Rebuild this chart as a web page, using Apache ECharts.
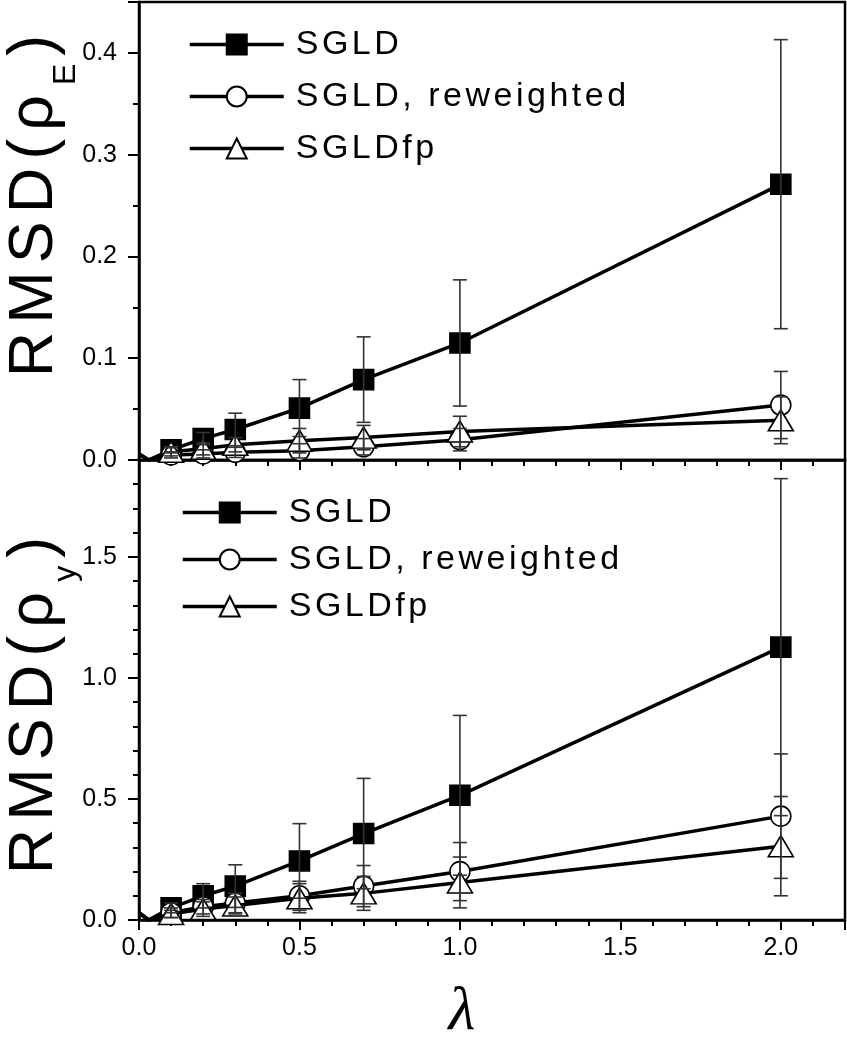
<!DOCTYPE html>
<html><head><meta charset="utf-8">
<script src="https://cdn.jsdelivr.net/npm/echarts@6/dist/echarts.min.js"></script>
<style>html,body{margin:0;padding:0;background:#fff}#c{width:847px;height:1050px}</style>
</head><body><div id="c"></div>
<script>
// ---- data ----
const lambdaVals = [0, 0.03, 0.1, 0.2, 0.3, 0.5, 0.7, 1.0, 2.0];
const seriesNames = ['SGLD', 'SGLD, reweighted', 'SGLDfp'];
// top panel: RMSD(rho_E)
const sgldE      = [0.006, 0, 0.010, 0.021, 0.030, 0.051, 0.079, 0.115, 0.271];
const sgldEErr   = [null, null, 0.003, 0.006, 0.016, 0.028, 0.042, 0.062, 0.142];
const reweE      = [0.006, 0, 0.005, 0.006, 0.0075, 0.009, 0.013, 0.020, 0.054];
const reweEErr   = [null, null, 0.003, 0.004, 0.005, 0.007, 0.008, 0.011, 0.033];
const fpE        = [0.006, 0, 0.008, 0.011, 0.015, 0.019, 0.022, 0.028, 0.039];
const fpEErr     = [null, null, 0.004, 0.006, 0.007, 0.012, 0.012, 0.015, 0.023];
// bottom panel: RMSD(rho_y)
const sgldY      = [0.03, 0, 0.05, 0.10, 0.14, 0.244, 0.357, 0.515, 1.127];
const sgldYErr   = [null, null, 0.02, 0.05, 0.088, 0.154, 0.228, 0.33, 0.696];
const reweY      = [0.03, 0, 0.03, 0.055, 0.07, 0.10, 0.14, 0.20, 0.429];
const reweYErr   = [null, null, 0.02, 0.03, 0.04, 0.06, 0.085, 0.12, 0.257];
const fpY        = [0.03, 0, 0.025, 0.045, 0.06, 0.09, 0.11, 0.155, 0.305];
const fpYErr     = [null, null, 0.015, 0.03, 0.035, 0.06, 0.07, 0.105, 0.205];
// axis ticks
const xMajorTicks = [0, 0.5, 1.0, 1.5, 2.0];
const yTopTicks = [0, 0.1, 0.2, 0.3, 0.4];
const yBotTicks = [0, 0.5, 1.0, 1.5];

// ---- build ----
const FONT = "'Liberation Sans', Arial, sans-serif";
const pts = (vals) => lambdaVals.map((x, i) => i < 2 ? {value: [x, vals[i]], symbol: 'none'} : [x, vals[i]]);
const errPts = (vals, errs) => lambdaVals.map((x, i) => [x, vals[i], errs[i]]).filter(d => d[2] != null);

const symbols = [
  {symbol: 'rect', size: 20, fill: '#000'},
  {symbol: 'circle', size: 20, fill: '#fff'},
  {symbol: 'triangle', size: [25, 21], fill: '#fff'}
];

function lineSeries(k, panel, vals) {
  const s = symbols[k];
  return {
    type: 'line', name: seriesNames[k], xAxisIndex: panel * 2, yAxisIndex: panel * 2,
    data: pts(vals), symbol: s.symbol, symbolSize: s.size, showAllSymbol: true,
    itemStyle: {color: s.fill, borderColor: '#000', borderWidth: 1.6},
    lineStyle: {color: '#000', width: 3.5}, z: 3 + k, animation: false, clip: true
  };
}
function errRender(params, api) {
  const x = api.value(0), y = api.value(1), e = api.value(2);
  const hi = api.coord([x, y + e]), lo = api.coord([x, y - e]);
  const w = 7;
  const style = {stroke: '#333', lineWidth: 1.6, fill: null};
  return {type: 'group', children: [
    {type: 'line', shape: {x1: hi[0], y1: hi[1], x2: lo[0], y2: lo[1]}, style},
    {type: 'line', shape: {x1: hi[0] - w, y1: hi[1], x2: hi[0] + w, y2: hi[1]}, style},
    {type: 'line', shape: {x1: lo[0] - w, y1: lo[1], x2: lo[0] + w, y2: lo[1]}, style}
  ]};
}
function errSeries(panel, vals, errs) {
  return {type: 'custom', xAxisIndex: panel * 2, yAxisIndex: panel * 2, data: errPts(vals, errs),
    encode: {x: 0, y: 1}, renderItem: errRender, z: 10, animation: false, silent: true};
}

const near = (v, arr) => arr.some(t => Math.abs(t - v) < 1e-6);
const axisLineStyle = {color: '#000', width: 2.5};
// spread characters (the original figure's lettering is horizontally stretched)
const spread = (str, style) => str.split('').map(c => `{${style}|${c}}`).join('');

function xAxes(grid, showLabels) {
  return [
    {type: 'value', gridIndex: grid, position: 'bottom', min: 0, max: 2.2, interval: 0.5,
      axisLine: {show: true, lineStyle: axisLineStyle, onZero: false},
      axisTick: {show: true, inside: false, length: 10, lineStyle: {color: '#000', width: 2}},
      axisLabel: {show: showLabels, margin: 16, fontSize: 25, color: '#000', fontFamily: FONT,
        formatter: v => near(v, xMajorTicks) ? v.toFixed(1) : ''},
      splitLine: {show: false},
      name: showLabels ? 'λ' : '', nameLocation: 'middle', nameGap: 62, nameMoveOverlap: false,
      nameTextStyle: {fontFamily: "'Liberation Serif', 'DejaVu Serif', serif", fontStyle: 'italic',
        fontSize: 62, color: '#000', padding: [0, 60, 0, 0]}},
    {type: 'value', gridIndex: grid, position: 'bottom', min: 0, max: 2.2, interval: 0.1,
      axisLine: {show: false, onZero: false},
      axisTick: {show: true, inside: false, length: 6, lineStyle: {color: '#000', width: 2}},
      axisLabel: {show: false}, splitLine: {show: false}}
  ];
}
function yAxes(grid, max, interval, minorInterval, ticks, nameMain, nameSub, namePad) {
  const name = spread(nameMain, 'a') + `{s|${nameSub}}` + '{a|)}';
  return [
    {type: 'value', gridIndex: grid, position: 'left', min: 0, max: max, interval: interval,
      axisLine: {show: true, lineStyle: axisLineStyle, onZero: false},
      axisTick: {show: true, inside: false, length: 11, lineStyle: {color: '#000', width: 2}},
      axisLabel: {margin: 22, fontSize: 25, color: '#000', fontFamily: FONT,
        formatter: v => near(v, ticks) ? v.toFixed(1) : ''},
      splitLine: {show: false},
      name: name, nameLocation: 'middle', nameRotate: 90, nameGap: 73, nameMoveOverlap: false,
      nameTextStyle: {padding: namePad, rich: {
        a: {fontSize: 63, fontFamily: FONT, color: '#000', lineHeight: 63, padding: [0, 8, 0, 0]},
        s: {fontSize: 32, fontFamily: FONT, color: '#000', lineHeight: 32, padding: [64, 8, 0, 2]}
      }}},
    {type: 'value', gridIndex: grid, position: 'left', min: 0, max: max, interval: minorInterval,
      axisLine: {show: false, onZero: false},
      axisTick: {show: true, inside: false, length: 6, lineStyle: {color: '#000', width: 2}},
      axisLabel: {show: false}, splitLine: {show: false}}
  ];
}

const legendBase = {
  orient: 'vertical', itemWidth: 94, itemHeight: 25, selectedMode: false,
  data: seriesNames,
  lineStyle: {width: 3.5, color: '#000'},
  formatter: name => spread(name, 'c'),
  textStyle: {fontSize: 34, fontFamily: FONT, color: '#000', lineHeight: 35, padding: [0, 0, 0, 7],
    rich: {c: {fontSize: 34, fontFamily: FONT, color: '#000', lineHeight: 35, padding: [0, 3.5, 0, 0]}}}
};

const option = {
  backgroundColor: '#fff',
  animation: false,
  grid: [
    {left: 139, top: 2, width: 706, height: 458, show: true, borderColor: '#000', borderWidth: 2.5,
      backgroundColor: 'transparent', outerBoundsMode: 'none', containLabel: false},
    {left: 139, top: 460, width: 706, height: 460, show: true, borderColor: '#000', borderWidth: 2.5,
      backgroundColor: 'transparent', outerBoundsMode: 'none', containLabel: false}
  ],
  legend: [
    Object.assign({}, legendBase, {left: 183, top: 22, itemGap: 17}),
    Object.assign({}, legendBase, {left: 176, top: 490, itemGap: 12})
  ],
  xAxis: [...xAxes(0, false), ...xAxes(1, true)],
  yAxis: [
    ...yAxes(0, 0.45, 0.1, 0.05, yTopTicks, 'RMSD(ρ', 'E', [0, 0, 0, 58]),
    ...yAxes(1, 1.9, 0.5, 0.1, yBotTicks, 'RMSD(ρ', 'y', [0, 23, 0, 0])
  ],
  series: [
    lineSeries(0, 0, sgldE), lineSeries(1, 0, reweE), lineSeries(2, 0, fpE),
    errSeries(0, sgldE, sgldEErr), errSeries(0, reweE, reweEErr), errSeries(0, fpE, fpEErr),
    lineSeries(0, 1, sgldY), lineSeries(1, 1, reweY), lineSeries(2, 1, fpY),
    errSeries(1, sgldY, sgldYErr), errSeries(1, reweY, reweYErr), errSeries(1, fpY, fpYErr)
  ]
};
const chart = echarts.init(document.getElementById('c'));
chart.setOption(option);
</script></body></html>
